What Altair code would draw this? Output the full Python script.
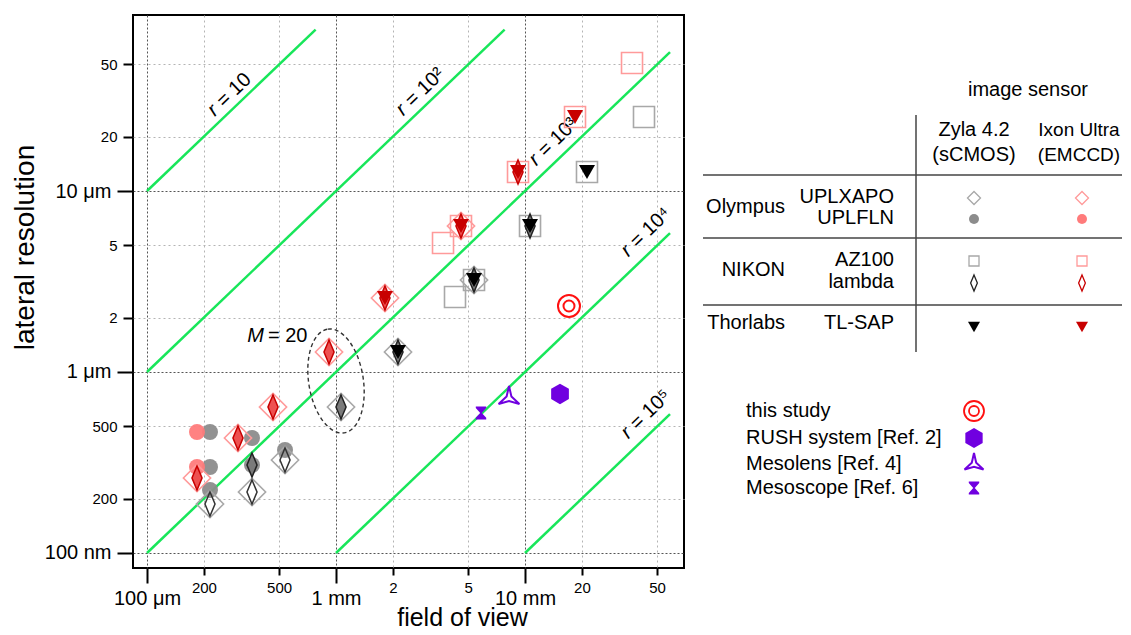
import altair as alt
import pandas as pd

# ---------------- data: field of view (mm), lateral resolution (um) ----------------
# Olympus UPLXAPO (large open diamond)
xapo_zyla_fov = [0.2154, 0.3594, 0.5373, 1.063, 2.128, 5.373]
xapo_zyla_res = [0.1865, 0.2173, 0.3264, 0.6405, 1.290, 3.224]
xapo_ixon_fov = [0.1839, 0.3030, 0.4642, 0.9184, 1.816, 4.585]
xapo_ixon_res = [0.2597, 0.4317, 0.6405, 1.290, 2.564, 6.405]
# Olympus UPLFLN (filled circle)
fln_zyla_fov = [0.2154, 0.3594, 0.5373, 0.2154, 0.2154, 0.3594]
fln_zyla_res = [0.4661, 0.4317, 0.3707, 0.2986, 0.2229, 0.3063]
fln_ixon_fov = [0.1839, 0.1839]
fln_ixon_res = [0.4661, 0.2986]
# NIKON AZ100 (open square)
az_zyla_fov = [4.262, 5.373, 10.63, 21.28, 42.62]
az_zyla_res = [2.597, 3.224, 6.405, 12.74, 25.64]
az_ixon_fov = [3.683, 4.585, 9.184, 18.39, 36.83]
az_ixon_res = [5.162, 6.405, 12.74, 25.64, 50.96]
# NIKON lambda (narrow diamond)
lam_zyla_open_fov = [0.2154, 0.3594, 0.5373]
lam_zyla_open_res = [0.1865, 0.2173, 0.3264]
lam_zyla_fov = [0.3594, 1.063, 2.128, 5.373, 10.63]
lam_zyla_res = [0.3063, 0.6405, 1.290, 3.224, 6.405]
lam_ixon_fov = [0.1839, 0.3030, 0.4642, 0.9184, 1.816, 4.585, 9.184]
lam_ixon_res = [0.2597, 0.4317, 0.6405, 1.290, 2.564, 6.405, 12.74]
# Thorlabs TL-SAP (filled down triangle)
sap_zyla_fov = [2.128, 5.373, 10.63, 21.28]
sap_zyla_res = [1.290, 3.224, 6.405, 12.74]
sap_ixon_fov = [1.816, 4.585, 9.184, 18.39]
sap_ixon_res = [2.564, 6.405, 12.74, 25.64]
# other systems
other_names = ["this study", "RUSH system [Ref. 2]", "Mesolens [Ref. 4]", "Mesoscope [Ref. 6]"]
other_fov = [17.09, 15.32, 8.229, 5.851]
other_res = [2.316, 0.7561, 0.7185, 0.5937]
# constant-r lines  (resolution = fov / r)
r_values = [10, 100, 1000, 10000, 100000]
r_fov_start = [0.1, 0.1, 0.1, 1.0, 10.0]
r_fov_end = [0.78, 7.8, 58.5, 58.5, 58.5]
r_label_rest = ["= 10", "= 10²", "= 10³", "= 10⁴", "= 10⁵"]
r_label_fov = [0.2715, 2.782, 14.06, 43.15, 43.15]
r_label_res = [33.9, 35.2, 18.66, 5.86, 0.578]
# M = 20 annotation
m20_fov = [1.0]
m20_res = [0.892]
m20_label_fov = [0.4209]
m20_label_res = [1.58]
# axis ticks
tick_values = [0.1, 0.2, 0.5, 1, 2, 5, 10, 20, 50]
# legend table texts
sensor_names = ["Zyla 4.2", "Ixon Ultra"]
sensor_types = ["(sCMOS)", "(EMCCD)"]
makers = ["Olympus", "NIKON", "Thorlabs"]
objectives = ["UPLXAPO", "UPLFLN", "AZ100", "lambda", "TL-SAP"]

# ---------------- styles ----------------
FONT = "Liberation Sans"
GREEN = "#18e65a"
PURPLE = "#7000e0"
GRAY_L = "#a8a8a8"
GRAY_F = "#8c8c8c"
PINK = "#ff9a9a"
RED_F = "#ff7b7b"
DARKRED = "#c80000"

LAMBDA = "M0,-1L0.42,0L0,1L-0.42,0Z"
HEXAGON = "M0,-1L0.866,-0.5L0.866,0.5L0,1L-0.866,0.5L-0.866,-0.5Z"
TRISTAR = "M0,-1L0.2,-0.12L0.866,0.5L0,0.25L-0.866,0.5L-0.2,-0.12Z"
HOURGLASS = "M-0.8,-1L0.8,-1L0.8,-0.75L0.12,0L0.8,0.75L0.8,1L-0.8,1L-0.8,0.75L-0.12,0L-0.8,-0.75Z"
ELLIPSE = "M0,-1A0.52,1,0,1,1,0,1A0.52,1,0,1,1,0,-1Z"

xscale = alt.Scale(type="log", domain=[0.08432, 69.38], nice=False)
yscale = alt.Scale(type="log", domain=[0.08262, 93.85], nice=False)

major = "datum.value == 0.1 || datum.value == 1 || datum.value == 10"

def cond(a, b):
    return {"condition": {"test": major, "value": a}, "value": b}

xaxis = alt.Axis(
    values=tick_values,
    labelExpr="datum.value == 0.1 ? '100 μm' : datum.value == 1 ? '1 mm' : datum.value == 10 ? '10 mm' : "
              "(datum.value < 1 ? format(datum.value * 1000, 'd') : format(datum.value, 'd'))",
    domain=False, tickColor="black", tickWidth=2,
    tickSize=cond(15, 7), labelPadding=cond(5, 5), labelFontSize=cond(20, 15),
    labelFont=FONT, labelColor="black", labelFlush=False, labelOverlap=False, labelBound=False,
    grid=True, gridColor=cond("#555555", "#b4b4b4"), gridDash=cond([2, 2], [2, 3]), gridWidth=1,
    title="field of view", titleFont=FONT, titleFontSize=25, titleFontWeight="normal",
    titleColor="black", titleX=329, titleY=57, titleBaseline="alphabetic", titleAlign="center",
)
yaxis = alt.Axis(
    values=tick_values,
    labelExpr="datum.value == 0.1 ? '100 nm' : datum.value == 1 ? '1 μm' : datum.value == 10 ? '10 μm' : "
              "(datum.value < 1 ? format(datum.value * 1000, 'd') : format(datum.value, 'd'))",
    domain=False, tickColor="black", tickWidth=2,
    tickSize=cond(16, 10), labelPadding=6, labelFontSize=cond(20, 15),
    labelFont=FONT, labelColor="black", labelFlush=False, labelOverlap=False, labelBound=False,
    grid=True, gridColor=cond("#555555", "#b4b4b4"), gridDash=cond([2, 2], [2, 3]), gridWidth=1,
    title="lateral resolution", titleFont=FONT, titleFontSize=28, titleFontWeight="normal",
    titleColor="black", titleX=-100, titleY=232, titleBaseline="alphabetic", titleAlign="center",
    titleAngle=270,
)


def xy(xf="fov", yf="res"):
    return dict(x=alt.X(f"{xf}:Q", scale=xscale, axis=xaxis),
                y=alt.Y(f"{yf}:Q", scale=yscale, axis=yaxis))


def pts(fov, res, shape, size, fill=None, stroke=None, sw=1.5, opacity=1.0, angle=0, dash=None):
    df = pd.DataFrame({"fov": fov, "res": res})
    kw = dict(shape=shape, size=size, strokeWidth=sw, opacity=opacity)
    if fill is not None:
        kw["filled"] = True
        kw["fill"] = fill
        kw["stroke"] = stroke if stroke is not None else fill
        if stroke is None:
            kw["strokeWidth"] = 0
    else:
        kw["filled"] = False
        kw["fill"] = "transparent"
        kw["stroke"] = stroke
    if angle:
        kw["angle"] = angle
    if dash:
        kw["strokeDash"] = dash
    return alt.Chart(df).mark_point(**kw).encode(**xy())


# ---------------- plot layers ----------------
lines_df = pd.DataFrame({"r": r_values, "fov": r_fov_start, "fov2": r_fov_end})
lines_df["res"] = lines_df["fov"] * 1000 / lines_df["r"]
lines_df["res2"] = lines_df["fov2"] * 1000 / lines_df["r"]

lines = alt.Chart(lines_df).mark_rule(color=GREEN, strokeWidth=2.5).encode(
    x2="fov2:Q", y2="res2:Q", **xy()
)

layers = [lines]

# rotated r-labels: italic "r" + rest, both in rotated frame
RFS = 20
for fv, rs, rest in zip(r_label_fov, r_label_res, r_label_rest):
    w_rest = 0.556 * 2 + 0.278 * 2 + 0.584 + (0.35 if len(rest) > 4 else 0)
    total = (0.333 + w_rest) * RFS
    start = -total / 2 + 0.35 * RFS
    d = pd.DataFrame({"fov": [fv], "res": [rs], "a": ["r"], "b": [rest]})
    layers.append(alt.Chart(d).mark_text(font=FONT, fontSize=RFS, fontStyle="italic", angle=316,
                                         align="right", baseline="middle", dx=start, color="black")
                  .encode(text="a:N", **xy()))
    layers.append(alt.Chart(d).mark_text(font=FONT, fontSize=RFS, angle=316,
                                         align="left", baseline="middle", dx=start + 0.3 * RFS,
                                         color="black")
                  .encode(text="b:N", **xy()))

# UPLFLN circles
layers.append(pts(fln_zyla_fov, fln_zyla_res, "circle", 256, fill=GRAY_F, opacity=0.95))
layers.append(pts(fln_ixon_fov, fln_ixon_res, "circle", 256, fill=RED_F, opacity=0.95))
# UPLXAPO diamonds
layers.append(pts(xapo_zyla_fov, xapo_zyla_res, "diamond", 740, stroke=GRAY_L, sw=1.6))
layers.append(pts(xapo_ixon_fov, xapo_ixon_res, "diamond", 740, stroke=PINK, sw=1.6))
# AZ100 squares
layers.append(pts(az_zyla_fov, az_zyla_res, "square", 441, stroke=GRAY_L, sw=1.6))
layers.append(pts(az_ixon_fov, az_ixon_res, "square", 441, stroke=PINK, sw=1.6))
# lambda
layers.append(pts(lam_zyla_open_fov, lam_zyla_open_res, LAMBDA, 576, stroke="#333333", sw=1.5))
layers.append(pts(lam_zyla_fov, lam_zyla_res, LAMBDA, 576, fill="#7a7a7a", stroke="#222222", sw=1.5))
layers.append(pts(lam_ixon_fov, lam_ixon_res, LAMBDA, 576, fill="#ee5050", stroke=DARKRED, sw=1.5))
# TL-SAP triangles
layers.append(pts(sap_zyla_fov, sap_zyla_res, "triangle-down", 256, fill="black"))
layers.append(pts(sap_ixon_fov, sap_ixon_res, "triangle-down", 256, fill=DARKRED))
# other systems
layers.append(pts(other_fov[0:1], other_res[0:1], "circle", 484, stroke="#ff1010", sw=2))
layers.append(pts(other_fov[0:1], other_res[0:1], "circle", 121, stroke="#ff1010", sw=2))
layers.append(pts(other_fov[1:2], other_res[1:2], HEXAGON, 420, fill=PURPLE))
layers.append(pts(other_fov[2:3], other_res[2:3], TRISTAR, 576, stroke=PURPLE, sw=2))
layers.append(pts(other_fov[3:4], other_res[3:4], HOURGLASS, 170, fill=PURPLE))
# M = 20 ellipse and label
layers.append(pts(m20_fov, m20_res, ELLIPSE, 11025, stroke="#333333", sw=1.4, angle=351, dash=[4, 3]))
m_df = pd.DataFrame({"fov": m20_label_fov, "res": m20_label_res, "a": ["M"], "b": ["= 20"]})
layers.append(alt.Chart(m_df).mark_text(font=FONT, fontSize=20, fontStyle="italic", align="right",
                                        baseline="middle", dx=-1, color="black").encode(text="a:N", **xy()))
layers.append(alt.Chart(m_df).mark_text(font=FONT, fontSize=20, align="left",
                                        baseline="middle", dx=3, color="black").encode(text="b:N", **xy()))


# ---------------- legend table (pixel layout relative to plot origin) ----------------
def vtext(s, px, py, align="center", size=20):
    return alt.Chart(pd.DataFrame({"t": [s]})).mark_text(
        font=FONT, fontSize=size, align=align, baseline="middle", color="black"
    ).encode(x=alt.value(px), y=alt.value(py), text="t:N")


def vsym(shape, px, py, size, fill=None, stroke=None, sw=1.3):
    kw = dict(shape=shape, size=size, strokeWidth=sw, opacity=1)
    if fill is not None:
        kw.update(filled=True, fill=fill, stroke=stroke if stroke else fill)
        if stroke is None:
            kw["strokeWidth"] = 0
    else:
        kw.update(filled=False, fill="transparent", stroke=stroke)
    return alt.Chart(pd.DataFrame({"t": [0]})).mark_point(**kw).encode(x=alt.value(px), y=alt.value(py))


def vrule(x1, y1, x2, y2, color="#444444", w=1.5):
    return alt.Chart(pd.DataFrame({"t": [0]})).mark_rule(color=color, strokeWidth=w).encode(
        x=alt.value(x1), y=alt.value(y1), x2=alt.value(x2), y2=alt.value(y2))


CZ, CI = 841, 949
RM, RO = 652, 761
legend = [
    vtext("image sensor", 895, 75),
    vtext(sensor_names[0], CZ, 115), vtext(sensor_types[0], CZ, 140),
    vtext(sensor_names[1], 946, 115, size=19), vtext(sensor_types[1], 946, 140, size=19),
    vrule(783, 100, 783, 337),
    vrule(570, 160, 989, 160), vrule(570, 223, 989, 223), vrule(570, 290, 989, 290),
    vtext(makers[0], RM, 192, "right"), vtext(makers[1], RM, 255, "right"), vtext(makers[2], RM, 308, "right"),
    vtext(objectives[0], RO, 182, "right"), vtext(objectives[1], RO, 203, "right"),
    vtext(objectives[2], RO, 245, "right"), vtext(objectives[3], RO, 267, "right"),
    vtext(objectives[4], RO, 308, "right"),
    vsym("diamond", CZ, 183, 169, stroke=GRAY_L), vsym("diamond", CI, 183, 169, stroke=PINK),
    vsym("circle", CZ, 204, 100, fill=GRAY_F), vsym("circle", CI, 204, 100, fill=RED_F),
    vsym("square", CZ, 246, 100, stroke=GRAY_L), vsym("square", CI, 246, 100, stroke=PINK),
    vsym(LAMBDA, CZ, 268, 256, stroke="#222222"), vsym(LAMBDA, CI, 268, 256, stroke=DARKRED),
    vsym("triangle-down", CZ, 312, 144, fill="black"), vsym("triangle-down", CI, 312, 144, fill=DARKRED),
]
LX = 613
ly = [396, 423, 449, 473]
for name, yy in zip(other_names, ly):
    legend.append(vtext(name, LX, yy, "left"))
legend += [
    vsym("circle", CZ, ly[0], 400, stroke="#ff1010", sw=1.8),
    vsym("circle", CZ, ly[0], 100, stroke="#ff1010", sw=1.8),
    vsym(HEXAGON, CZ, ly[1], 400, fill=PURPLE),
    vsym(TRISTAR, CZ, ly[2], 480, stroke=PURPLE, sw=2),
    vsym(HOURGLASS, CZ, ly[3], 170, fill=PURPLE),
]

chart = alt.layer(*(layers + legend)).properties(
    width=551, height=553,
    autosize=alt.AutoSizeParams(type="none"),
    padding={"left": 125, "top": 7, "right": 438, "bottom": 59},
).configure_view(stroke="black", strokeWidth=2)

chart.save("out.html", embed_options={"renderer": "svg", "actions": False})
